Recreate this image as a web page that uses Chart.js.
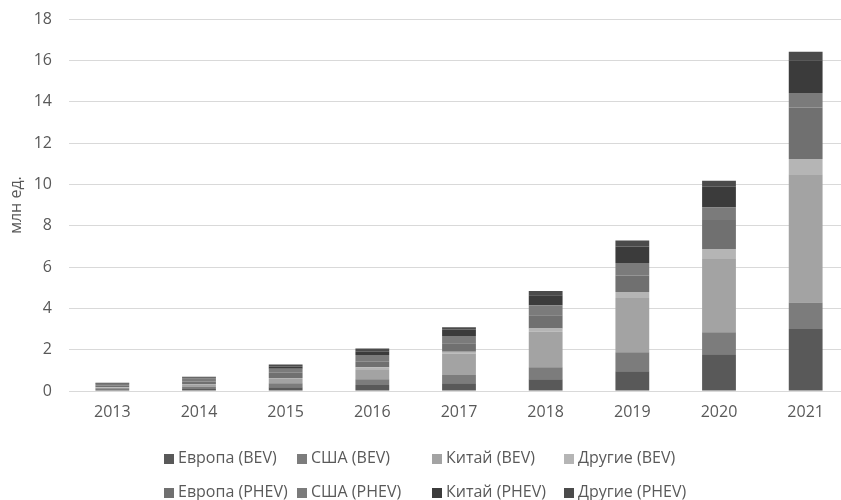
<!DOCTYPE html>
<html>
<head>
<meta charset="utf-8">
<script src="https://cdn.jsdelivr.net/npm/chart.js@4"></script>
<style>
	html, body { margin: 0; padding: 0; background: #fff; overflow: hidden; }
	#wrap { position: relative; width: 841px; height: 500px; overflow: hidden; }
	#legend { position: absolute; left: 0; top: 0; width: 841px; height: 500px; font-family: "Open Sans", sans-serif; font-size: 16px; color: #595959; }
	.item { position: absolute; white-space: nowrap; line-height: 20px; height: 20px; }
	.box { display: inline-block; width: 10px; height: 10px; margin-right: 4px; vertical-align: -1px; }
</style>
</head>
<body>
<div id="wrap">
	<canvas id="chartId" width="850" height="500" style="width:850px;height:500px"></canvas>
	<div id="legend"></div>
</div>
<script>
var years = ['2013', '2014', '2015', '2016', '2017', '2018', '2019', '2020', '2021'];

// значения в млн ед.
var europeBev  = [0.05, 0.10, 0.18, 0.29, 0.37, 0.57, 0.95, 1.78, 3.00];
var usaBev     = [0.08, 0.12, 0.20, 0.28, 0.40, 0.58, 0.92, 1.06, 1.28];
var chinaBev   = [0.02, 0.07, 0.20, 0.48, 1.05, 1.72, 2.63, 3.55, 6.21];
var otherBev   = [0.03, 0.05, 0.05, 0.10, 0.08, 0.16, 0.29, 0.48, 0.73];
var europePhev = [0.07, 0.12, 0.25, 0.27, 0.41, 0.64, 0.80, 1.40, 2.50];
var usaPhev    = [0.09, 0.14, 0.20, 0.32, 0.35, 0.48, 0.60, 0.61, 0.70];
var chinaPhev  = [0.02, 0.04, 0.10, 0.16, 0.32, 0.48, 0.80, 1.00, 1.58];
var otherPhev  = [0.04, 0.05, 0.10, 0.16, 0.10, 0.21, 0.29, 0.29, 0.42];

var names = ['Европа (BEV)', 'США (BEV)', 'Китай (BEV)', 'Другие (BEV)',
	'Европа (PHEV)', 'США (PHEV)', 'Китай (PHEV)', 'Другие (PHEV)'];
var series = [europeBev, usaBev, chinaBev, otherBev, europePhev, usaPhev, chinaPhev, otherPhev];
var colours = ['#595959', '#7c7c7c', '#a3a3a3', '#b5b5b5', '#707070', '#7b7b7b', '#3b3b3b', '#4b4b4b'];

var yTicks = [0, 2, 4, 6, 8, 10, 12, 14, 16, 18];

var datasets = series.map(function (vals, i) {
	return {
		label: names[i],
		data: vals,
		backgroundColor: colours[i],
		borderWidth: 0,
		categoryPercentage: 1,
		barPercentage: 0.39
	};
});

Chart.defaults.font.family = '"Open Sans", sans-serif';
Chart.defaults.font.size = 16;
Chart.defaults.color = '#595959';

var chrt = document.getElementById('chartId').getContext('2d');
var chartId = new Chart(chrt, {
	type: 'bar',
	data: { labels: years, datasets: datasets },
	options: {
		responsive: false,
		animation: false,
		layout: { padding: { top: 19, right: 1, left: 0, bottom: 0 } },
		plugins: {
			legend: { display: false },
			tooltip: { enabled: false }
		},
		scales: {
			x: {
				stacked: true,
				grid: { display: false, drawTicks: false },
				border: { display: false },
				ticks: { padding: 12, color: '#595959' },
				afterFit: function (s) { s.height = 109; s.paddingLeft = 0; s.paddingRight = 0; }
			},
			y: {
				stacked: true,
				min: 0,
				max: 18,
				afterBuildTicks: function (s) { s.ticks = yTicks.map(function (v) { return { value: v }; }); },
				grid: { color: '#d9d9d9', lineWidth: 1, drawTicks: false },
				border: { display: false },
				ticks: { padding: 17, color: '#595959' },
				title: { display: true, text: 'млн ед.', color: '#595959', font: { size: 16 }, padding: { top: 7, bottom: 0 } },
				afterFit: function (s) { s.width = 69; s.paddingTop = 0; s.paddingBottom = 0; }
			}
		}
	}
});

// легенда в две строки, по колонкам
var colX = [164, 297, 432, 564];
var rowY = [447, 481];
var leg = document.getElementById('legend');
names.forEach(function (n, i) {
	var d = document.createElement('div');
	d.className = 'item';
	d.style.left = colX[i % 4] + 'px';
	d.style.top = rowY[Math.floor(i / 4)] + 'px';
	d.innerHTML = '<span class="box" style="background:' + colours[i] + '"></span>' + n;
	leg.appendChild(d);
});
</script>
</body>
</html>
